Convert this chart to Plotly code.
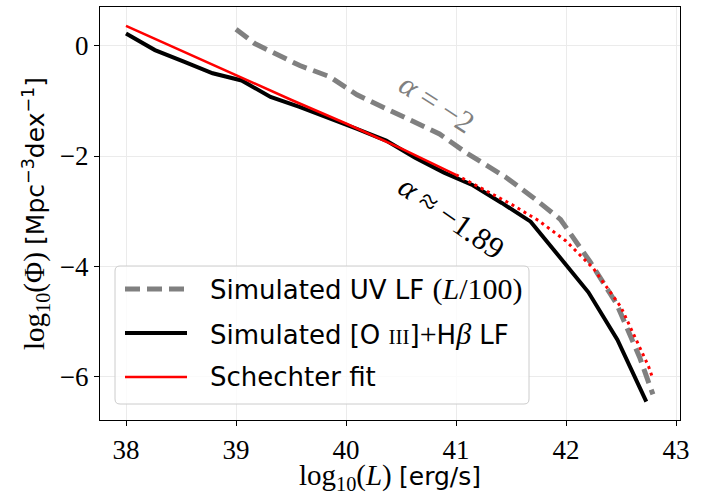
import plotly.graph_objects as go

# ---------------------------------------------------------------- data
# Simulated [O III]+Hbeta luminosity function
log_L_oiii = [38.000, 38.263, 38.526, 38.788, 39.051, 39.314, 39.577, 39.839,
              40.102, 40.365, 40.628, 40.891, 41.153, 41.416, 41.679, 41.942,
              42.204, 42.467, 42.730]
log_phi_oiii = [0.22, -0.08, -0.29, -0.50, -0.63, -0.93, -1.11, -1.30,
                -1.51, -1.72, -2.03, -2.30, -2.53, -2.85, -3.19, -3.83,
                -4.47, -5.33, -6.45]

# Simulated UV luminosity function, luminosities divided by 100
log_L_uv = [39.00, 39.17, 39.58, 39.85, 40.10, 40.45, 40.85, 41.10,
            41.45, 41.70, 41.95, 42.22, 42.46, 42.67, 42.79]
log_phi_uv = [0.30, 0.04, -0.36, -0.56, -0.89, -1.23, -1.60, -1.95,
              -2.38, -2.75, -3.15, -3.92, -4.68, -5.65, -6.32]

# Schechter fit over the fitted range ...
log_L_fit = [38.0, 38.5, 39.0, 39.5, 40.0, 40.5, 41.0]
log_phi_fit = [0.36, -0.09, -0.53, -0.98, -1.41, -1.86, -2.34]
# ... and its extrapolation to the bright end
log_L_extrap = [41.0, 41.25, 41.5, 41.75, 42.0, 42.25, 42.5, 42.75, 42.79]
log_phi_extrap = [-2.34, -2.60, -2.87, -3.17, -3.54, -4.04, -4.74, -5.81, -6.04]

x_ticks = [38, 39, 40, 41, 42, 43]
y_ticks = [-6, -4, -2, 0]

SERIF = "Liberation Serif"
SANS = "DejaVu Sans"


def serif(text, size=30):
    return f"<span style=\"font-family:'{SERIF}';font-size:{size}px\">{text}</span>"


legend_labels = [
    "Simulated UV LF " + serif("(<i>L</i>/100)"),
    "Simulated [O " + serif("III", 21) + "]" + serif("+") + "H"
    + serif("<i>β</i>") + " LF",
    "Schechter fit",
]
slope_labels = ["<i>α</i> = −2", "<i>α</i> ≈ −1.89"]
slope_label_pos = [(40.83, -1.04), (40.96, -3.12)]

# ---------------------------------------------------------------- styles
W, H = 710, 495
L, R, T, B = 100, 680, 7, 420          # plot area in pixels
GRAY = "#808080"
RED = "#ff0000"

uv_style = dict(color=GRAY, width=5, dash="15px,7px")
oiii_style = dict(color="black", width=4)
fit_style = dict(color=RED, width=2.5)
extrap_style = dict(color=RED, width=3, dash="3px,4px")


def px(xp):
    return (xp - L) / (R - L)


def py(yp):
    return (B - yp) / (B - T)


fig = go.Figure()
fig.add_trace(go.Scatter(x=log_L_uv, y=log_phi_uv, mode="lines",
                         line=uv_style, showlegend=False))
fig.add_trace(go.Scatter(x=log_L_oiii, y=log_phi_oiii, mode="lines",
                         line=oiii_style, showlegend=False))
fig.add_trace(go.Scatter(x=log_L_fit, y=log_phi_fit, mode="lines",
                         line=fit_style, showlegend=False))
fig.add_trace(go.Scatter(x=log_L_extrap, y=log_phi_extrap, mode="lines",
                         line=extrap_style, showlegend=False))

# slope annotations along the curves
for text, (xa, ya), col, ang in zip(slope_labels, slope_label_pos,
                                    [GRAY, "black"], [33, 35]):
    fig.add_annotation(x=xa, y=ya, xref="x", yref="y", text=text,
                       showarrow=False, textangle=ang,
                       font=dict(family=SERIF, size=31, color=col))

# legend box drawn by hand (rounded, semi-transparent)
bx0, by0, bx1, by1 = px(115), py(404), px(529), py(266)
rx, ry = 5 / (R - L), 5 / (B - T)
box_path = (f"M {bx0+rx},{by0} L {bx1-rx},{by0} Q {bx1},{by0} {bx1},{by0+ry} "
            f"L {bx1},{by1-ry} Q {bx1},{by1} {bx1-rx},{by1} "
            f"L {bx0+rx},{by1} Q {bx0},{by1} {bx0},{by1-ry} "
            f"L {bx0},{by0+ry} Q {bx0},{by0} {bx0+rx},{by0} Z")
fig.add_shape(type="path", path=box_path, xref="paper", yref="paper",
              fillcolor="rgba(255,255,255,0.8)",
              line=dict(color="#cccccc", width=1))

row_y = [289, 333, 377]
for yrow, style, label in zip(row_y, [uv_style, oiii_style, fit_style],
                              legend_labels):
    fig.add_shape(type="line", xref="paper", yref="paper",
                  x0=px(125), x1=px(187), y0=py(yrow), y1=py(yrow),
                  line=style)
    fig.add_annotation(x=px(208), y=py(yrow), xref="paper", yref="paper",
                       text=label, showarrow=False, xanchor="left",
                       yanchor="middle",
                       font=dict(family=SANS, size=26, color="black"))

axis_common = dict(
    showgrid=True, gridcolor="#ebebeb", gridwidth=1,
    showline=True, linecolor="black", linewidth=1.2, mirror=True,
    ticks="outside", ticklen=5, tickcolor="black", tickwidth=1.2,
    zeroline=False,
    tickfont=dict(family=SERIF, size=27, color="black"),
)

fig.update_xaxes(
    range=[38 - (126 - L) / 110, 38 + (R - 126) / 110],
    tickvals=x_ticks, ticktext=[str(v) for v in x_ticks],
    title=dict(
        text="log<sub>10</sub>(<i>L</i>) "
             f"<span style=\"font-family:'{SANS}';font-size:25px\">[erg/s]</span>",
        font=dict(family=SERIF, size=29, color="black"), standoff=11),
    **axis_common)
fig.update_yaxes(
    range=[-6 - (B - 376.7) / 55.17, (45.7 - T) / 55.17],
    tickvals=y_ticks, ticktext=[f"{v}".replace("-", "−") for v in y_ticks],
    title=dict(
        text="log<sub>10</sub>(Φ) "
             f"<span style=\"font-family:'{SANS}';font-size:25px\">[Mpc<sup>−3</sup>dex<sup>−1</sup>]</span>",
        font=dict(family=SERIF, size=29, color="black"), standoff=6),
    **axis_common)

fig.update_layout(
    width=W, height=H,
    margin=dict(l=L, r=W - R, t=T, b=H - B, autoexpand=False),
    paper_bgcolor="white", plot_bgcolor="white",
    showlegend=False,
)

fig.write_html("out.html")
